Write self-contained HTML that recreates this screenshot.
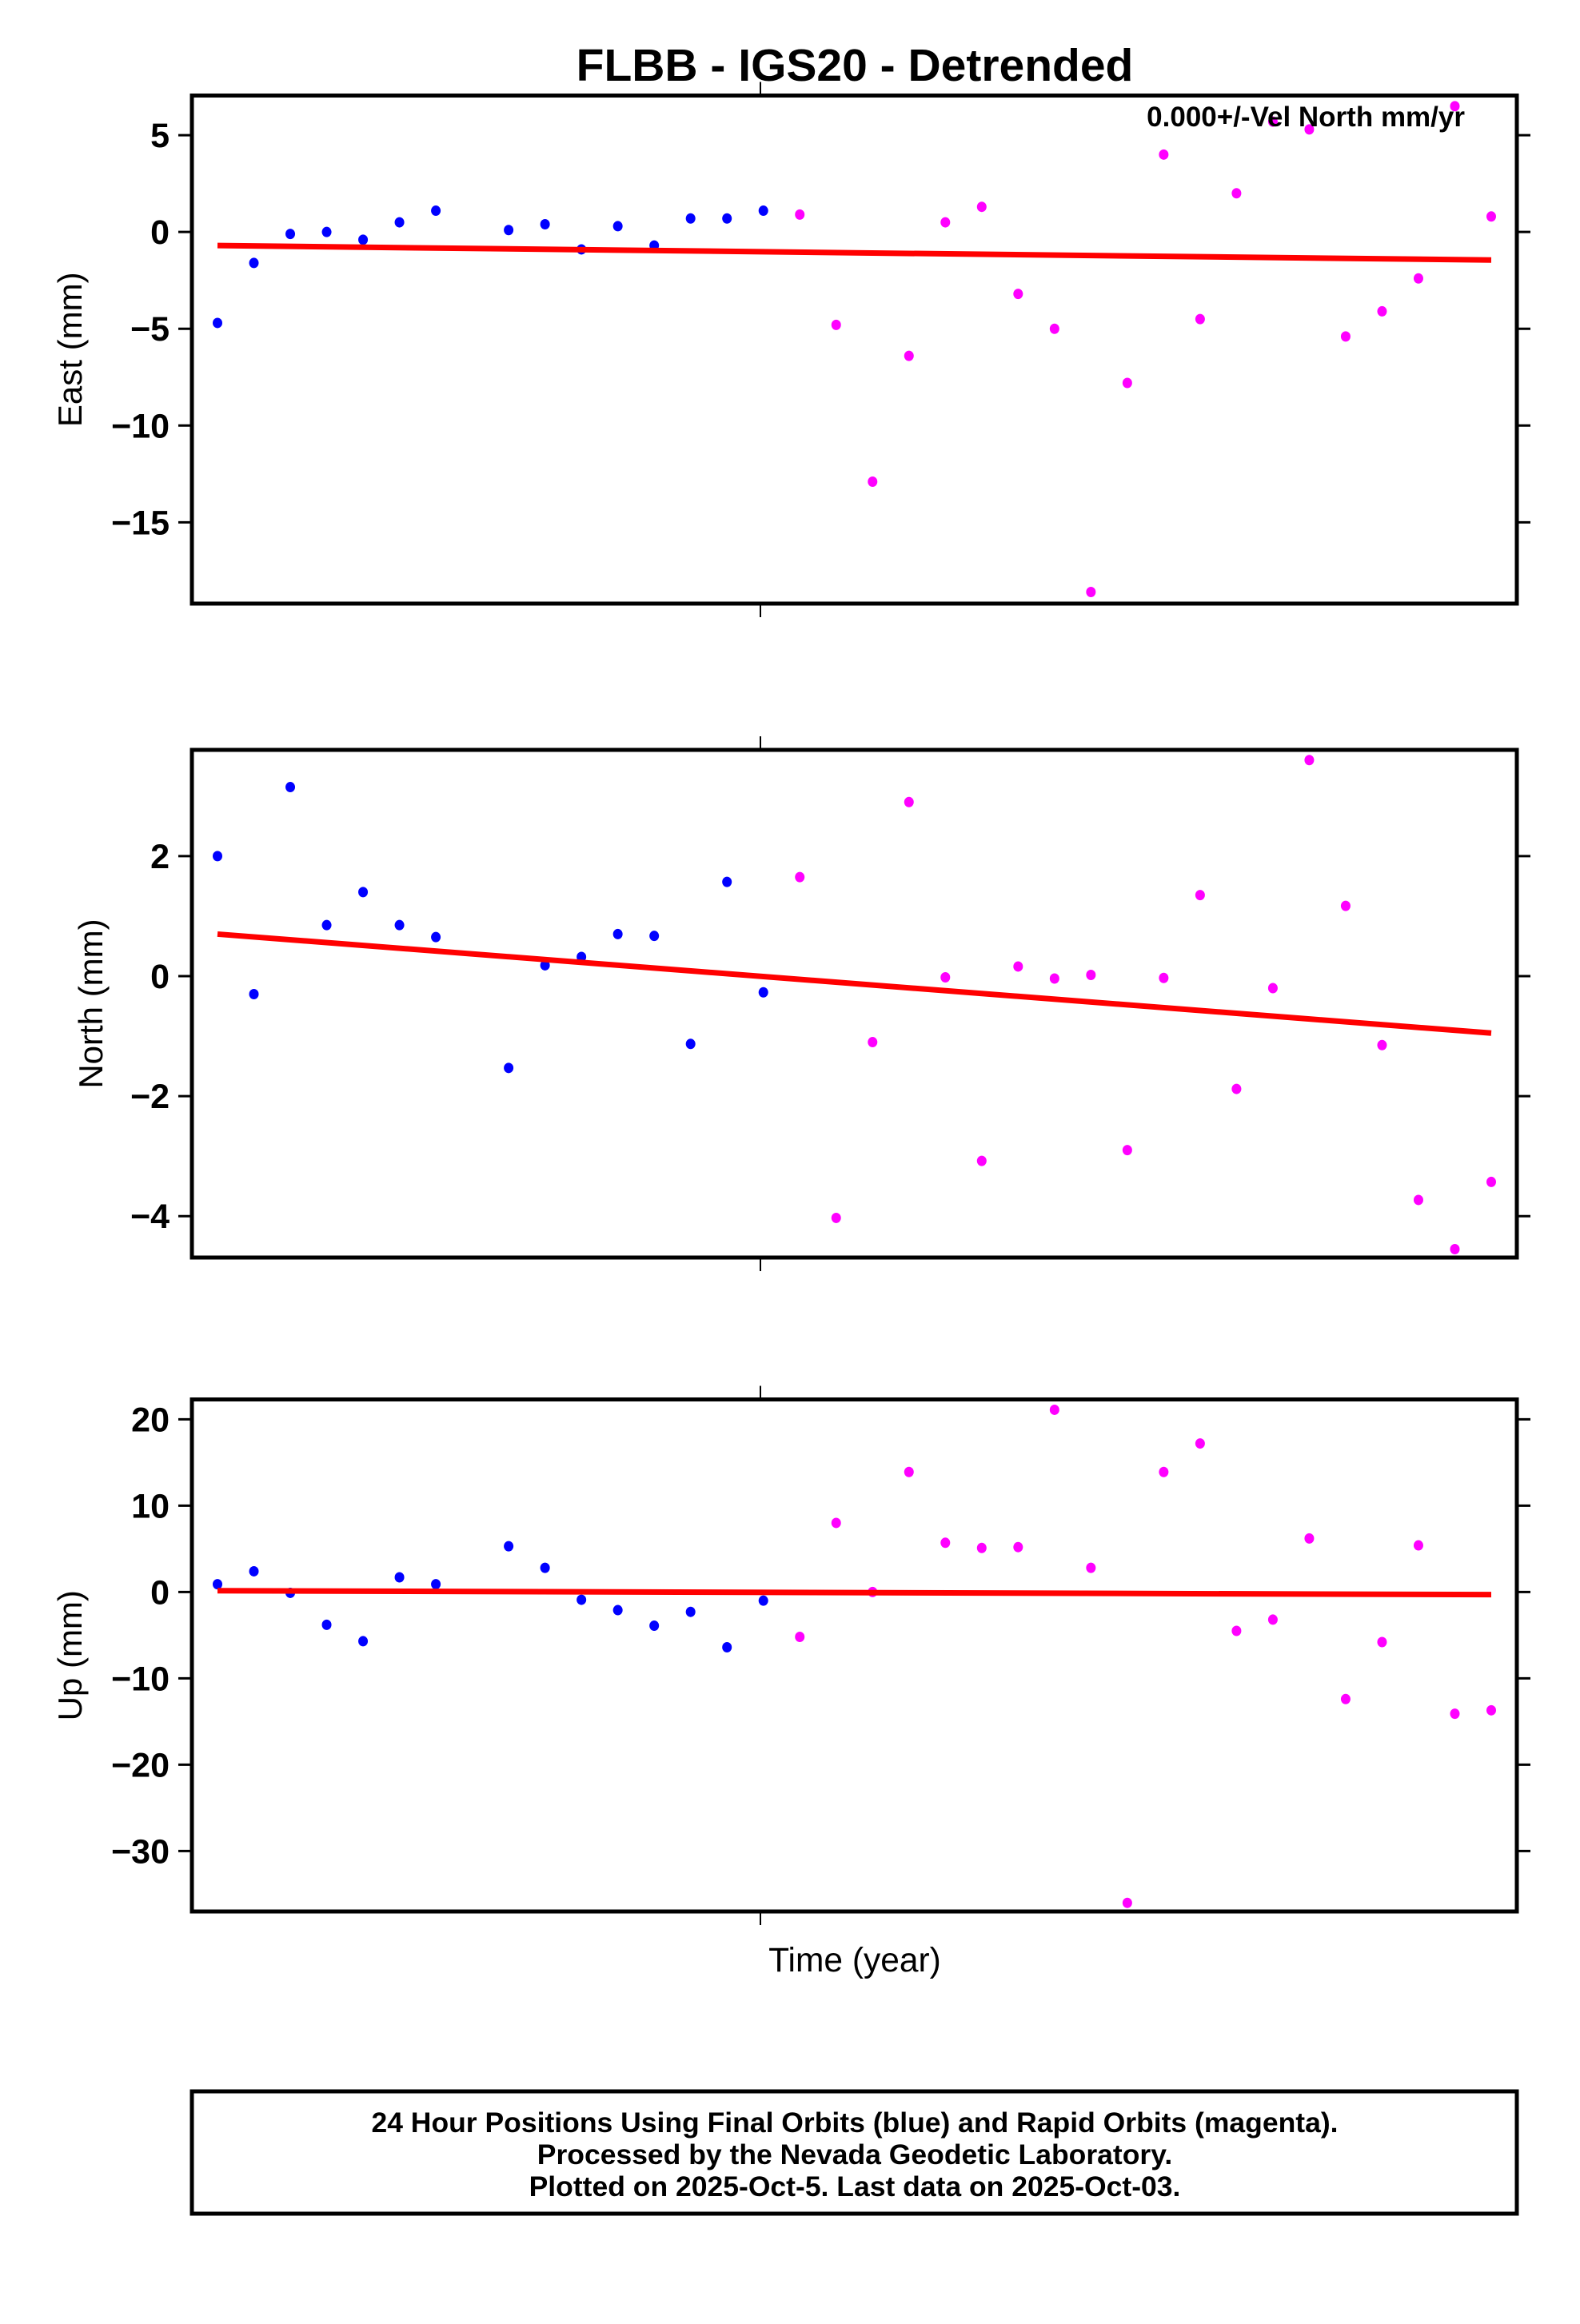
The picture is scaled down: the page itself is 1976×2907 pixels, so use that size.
<!DOCTYPE html>
<html><head><meta charset="utf-8"><style>
html,body{margin:0;padding:0;background:#fff;}
svg text{font-family:"Liberation Sans",sans-serif;}
</style></head><body>
<svg id="chart" width="1976" height="2902" viewBox="0 0 1976 2902" xmlns="http://www.w3.org/2000/svg">
<text x="1069" y="101" text-anchor="middle" font-size="57" font-weight="bold">FLBB - IGS20 - Detrended</text>
<g id="plots"></g>
<text x="1069" y="2466" text-anchor="middle" font-size="42.5">Time (year)</text>
<rect x="240" y="2616" width="1657" height="153" fill="none" stroke="#000" stroke-width="5"/>
<text x="1069" y="2667" text-anchor="middle" font-size="35.5" font-weight="bold">24 Hour Positions Using Final Orbits (blue) and Rapid Orbits (magenta).</text>
<text x="1069" y="2707" text-anchor="middle" font-size="35.5" font-weight="bold">Processed by the Nevada Geodetic Laboratory.</text>
<text x="1069" y="2747" text-anchor="middle" font-size="35.5" font-weight="bold">Plotted on 2025-Oct-5. Last data on 2025-Oct-03.</text>
</svg>
<script>
const days = [0,1,2,3,4,5,6,8,9,10,11,12,13,14,15,16,17,18,19,20,21,22,23,24,25,26,27,28,29,30,31,32,33,34,35];
const finalCount = 15;
const eastVals = [-4.7,-1.6,-0.1,0.0,-0.4,0.5,1.1,0.1,0.4,-0.9,0.3,-0.7,0.7,0.7,1.1,0.9,-4.8,-12.9,-6.4,0.5,1.3,-3.2,-5.0,-18.6,-7.8,4.0,-4.5,2.0,5.7,5.3,-5.4,-4.1,-2.4,6.5,0.8];
const northVals = [2.0,-0.3,3.15,0.85,1.4,0.85,0.65,-1.53,0.18,0.32,0.7,0.67,-1.13,1.57,-0.27,1.65,-4.03,-1.1,2.9,-0.02,-3.08,0.16,-0.04,0.02,-2.9,-0.03,1.35,-1.88,-0.2,3.6,1.17,-1.15,-3.73,-4.55,-3.43];
const upVals = [0.9,2.4,-0.1,-3.8,-5.7,1.7,0.9,5.3,2.8,-0.9,-2.1,-3.9,-2.3,-6.4,-1.0,-5.2,8.0,0.0,13.9,5.7,5.1,5.2,21.1,2.8,-36,13.9,17.2,-4.5,-3.2,6.2,-12.4,-5.8,5.4,-14.1,-13.7];
const eastTrend = [-0.7,-1.45];
const northTrend = [0.7,-0.95];
const upTrend = [0.15,-0.3];
const eastTicks = [5,0,-5,-10,-15];
const northTicks = [2,0,-2,-4];
const upTicks = [20,10,0,-10,-20,-30];

const NS='http://www.w3.org/2000/svg';
const g=document.getElementById('plots');
const X0=240,X1=1897;
function xs(d){return 272+(d-0)*(1865-272)/35;}
function mk(tag,attrs,parent){const e=document.createElementNS(NS,tag);for(const k in attrs)e.setAttribute(k,attrs[k]);parent.appendChild(e);return e;}
const panels=[
 {name:'east',label:'East (mm)',vals:eastVals,trend:eastTrend,ticks:eastTicks,top:119.5,bot:755,ymax:7.05,ymin:-19.2,lx:102},
 {name:'north',label:'North (mm)',vals:northVals,trend:northTrend,ticks:northTicks,top:938,bot:1573,ymax:3.77,ymin:-4.69,lx:128},
 {name:'up',label:'Up (mm)',vals:upVals,trend:upTrend,ticks:upTicks,top:1750.5,bot:2391,ymax:22.3,ymin:-37.0,lx:102}
];
panels.forEach(p=>{
 const pg=mk('g',{},g);
 
 
 const ys=v=>p.top+(p.ymax-v)*(p.bot-p.top)/(p.ymax-p.ymin);
 p.ticks.forEach(t=>{
  const y=ys(t);
  const tl=mk('line',{x1:X0-17,x2:X0,y1:y,y2:y,stroke:'#000','stroke-width':3},pg);
  
  
  const tr=mk('line',{x1:X1,x2:X1+17,y1:y,y2:y,stroke:'#000','stroke-width':3},pg);
  
  
  const tx=mk('text',{x:X0-28,y:y+15,'text-anchor':'end','font-size':43,'font-weight':'bold'},pg);
  tx.textContent=(t<0?'\u2212'+Math.abs(t):String(t));
  
  
 });
 const tt=mk('line',{x1:951,x2:951,y1:p.top-17,y2:p.top,stroke:'#000','stroke-width':2},pg);
 
 
 const tb=mk('line',{x1:951,x2:951,y1:p.bot,y2:p.bot+17,stroke:'#000','stroke-width':2},pg);
 
 
 const cy=(p.top+p.bot)/2;
 const lab=mk('text',{x:p.lx,y:cy,'text-anchor':'middle','font-size':42,transform:'rotate(-90 '+p.lx+' '+cy+')'},pg);
 lab.textContent=p.label;
 
 
 p.vals.forEach((v,i)=>{
  const c=mk('ellipse',{cx:xs(days[i]),cy:ys(v),rx:6,ry:6.5,fill:i<finalCount?'#0000ff':'#ff00ff'},pg);
  
  
 });
 const ln=mk('line',{x1:xs(days[0]),y1:ys(p.trend[0]),x2:xs(days[days.length-1]),y2:ys(p.trend[1]),stroke:'#ff0000','stroke-width':7},pg);
 
 
 const fr=mk('rect',{x:X0,y:p.top,width:X1-X0,height:p.bot-p.top,fill:'none',stroke:'#000','stroke-width':5},pg);
 
 
 if(p.name==='east'){
  const vt=mk('text',{x:1832,y:158,'text-anchor':'end','font-size':35,'font-weight':'bold'},pg);
  vt.textContent='0.000+/-Vel North mm/yr';
  
  
 }
});
</script>
</body></html>
